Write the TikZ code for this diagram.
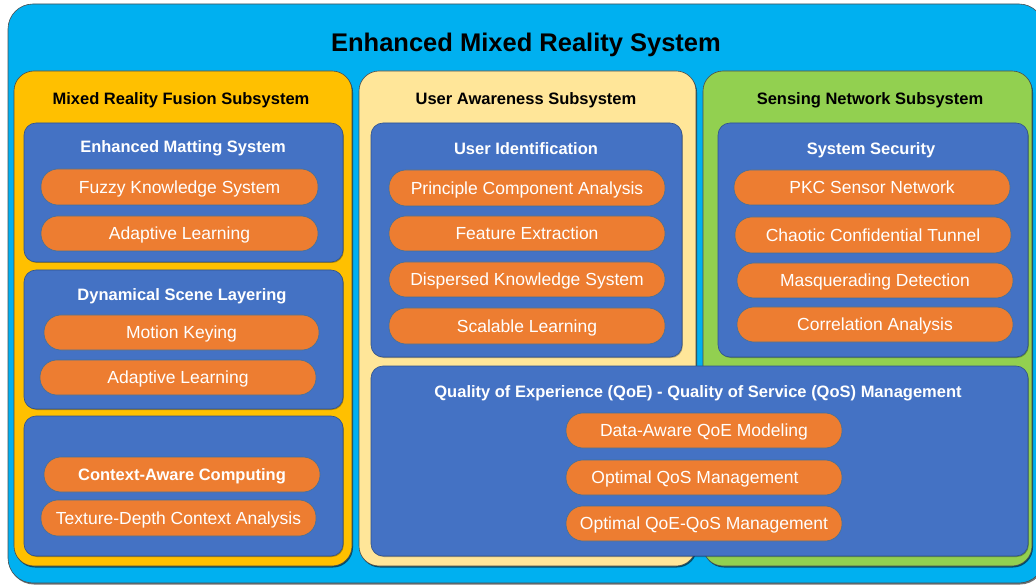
\documentclass[tikz,border=0pt]{standalone}
\usepackage{fontspec}
\setmainfont{Liberation Sans}
\usetikzlibrary{fit,shadows}
\definecolor{sky}{HTML}{00B0F0}
\definecolor{gold}{HTML}{FFC000}
\definecolor{cream}{HTML}{FFE699}
\definecolor{leaf}{HTML}{92D050}
\definecolor{boxblue}{HTML}{4472C4}
\definecolor{boxline}{HTML}{2F528F}
\definecolor{pillorange}{HTML}{ED7D31}
\definecolor{pillline}{HTML}{41719C}
\tikzset{
  shade/.style={drop shadow={shadow xshift=1pt, shadow yshift=-1.5pt, fill=black, opacity=0.55}},
  outerbox/.style={fill=sky, draw=black!70, line width=0.6pt, rounded corners=25pt, inner sep=0pt, shade},
  panel/.style={draw=black!70, line width=0.6pt, rounded corners=20pt, inner sep=0pt, shade},
  bluebox/.style={fill=boxblue, draw=boxline, line width=0.6pt, rounded corners=12pt, inner sep=0pt,
    drop shadow={shadow xshift=0.8pt, shadow yshift=-1pt, fill=black, opacity=0.3}},
  pill/.style={fill=pillorange, draw=pillline, line width=0.6pt, rounded corners=17pt, inner sep=0pt,
    minimum width=276pt, minimum height=35pt, text height=12.6pt, text depth=0pt,
    text=white, font=\fontsize{17.5}{20}\selectfont},
  maintitle/.style={font=\bfseries\fontsize{25.5}{30}\selectfont, text=black, inner sep=0pt,
    text height=18.3pt, text depth=0pt},
  paneltitle/.style={font=\bfseries\fontsize{16.5}{20}\selectfont, text=black, inner sep=0pt,
    text height=11.9pt, text depth=0pt},
  boxtitle/.style={font=\bfseries\fontsize{16.5}{20}\selectfont, text=white, inner sep=0pt,
    text height=11.9pt, text depth=0pt}
}
\begin{document}
\begin{tikzpicture}[x=1pt,y=-1pt]
\useasboundingbox (0,0) rectangle (1036,585);
\begin{scope}
\clip (0,0) rectangle (1036,585);
\node[outerbox, fit={(8,4) (1044,583)}] (outer) {};
\end{scope}
\node[maintitle] (title) at (526,42) {Enhanced Mixed Reality System};

% panels
\node[panel, fill=gold, fit={(14,71) (352,566)}] (pA) {};
\node[panel, fill=cream, fit={(359,71) (696,566)}] (pB) {};
\node[panel, fill=leaf, fit={(703,71) (1032,566)}] (pC) {};
\node[paneltitle] (pAt) at (181,98.5) {Mixed Reality Fusion Subsystem};
\node[paneltitle] (pBt) at (526,98.5) {User Awareness Subsystem};
\node[paneltitle] (pCt) at (870,98.5) {Sensing Network Subsystem};

% left panel boxes
\node[bluebox, fit={(24,123) (343,262)}] (a1) {};
\node[boxtitle] (a1t) at (183,146.5) {Enhanced Matting System};
\node[pill, minimum width=277pt, minimum height=36pt] (a1p1) at (179.5,187) {Fuzzy Knowledge System};
\node[pill, minimum width=277pt] (a1p2) at (179.5,233.5) {Adaptive Learning};

\node[bluebox, fit={(24,270) (343,409)}] (a2) {};
\node[boxtitle] (a2t) at (182,294.5) {Dynamical Scene Layering};
\node[pill, minimum width=275pt] (a2p1) at (181.5,332.5) {Motion Keying};
\node[pill] (a2p2) at (178,377.5) {Adaptive Learning};

\node[bluebox, fit={(24,416) (343,556)}] (a3) {};
\node[pill, font=\bfseries\fontsize{16.5}{20}\selectfont, text height=11.9pt] (a3p1) at (182,474.5) {Context-Aware Computing};
\node[pill, minimum width=275pt, minimum height=36pt] (a3p2) at (178.5,518) {Texture-Depth Context Analysis};

% middle panel box
\node[bluebox, fit={(371,123) (682,357)}] (b1) {};
\node[boxtitle] (b1t) at (526,148.5) {User Identification};
\node[pill, minimum height=36pt] (b1p1) at (527,188) {Principle Component Analysis};
\node[pill] (b1p2) at (527,233.5) {Feature Extraction};
\node[pill] (b1p3) at (527,279.5) {Dispersed Knowledge System};
\node[pill, minimum height=36pt] (b1p4) at (527,326) {Scalable Learning};

% right panel box
\node[bluebox, fit={(718,123) (1028,357)}] (c1) {};
\node[boxtitle] (c1t) at (871,148.5) {System Security};
\node[pill] (c1p1) at (872,187.5) {PKC Sensor Network};
\node[pill, minimum height=36pt] (c1p2) at (873,235) {Chaotic Confidential Tunnel};
\node[pill] (c1p3) at (875,280.5) {Masquerading Detection};
\node[pill] (c1p4) at (875,324.5) {Correlation Analysis};

% QoE-QoS box
\node[bluebox, fit={(371,366) (1028,556)}] (q) {};
\node[boxtitle] (qt) at (698,392) {Quality of Experience (QoE) - Quality of Service (QoS) Management};
\node[pill] (qp1) at (704,430.5) {Data-Aware QoE Modeling};
\node[pill] (qp2) at (704,477.5) {Optimal QoS Management\hspace*{18pt}};
\node[pill] (qp3) at (704,523.5) {Optimal QoE-QoS Management};
\end{tikzpicture}
\end{document}
